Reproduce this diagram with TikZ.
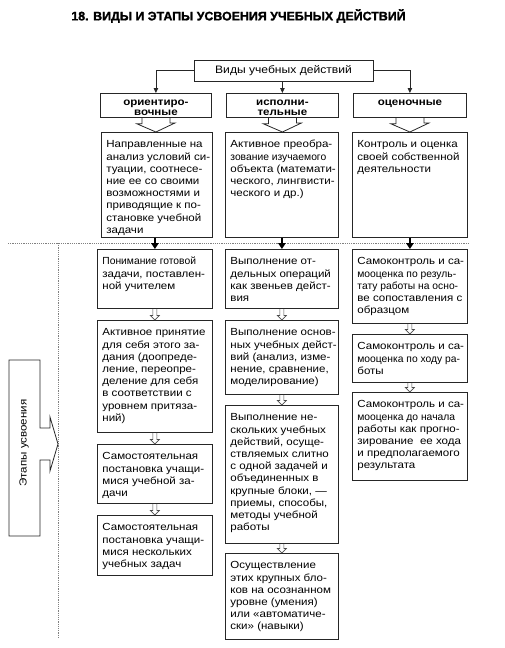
\documentclass[tikz,border=0pt]{standalone}
\usepackage{fontspec}
\setmainfont{Liberation Sans}[FakeStretch=1.12]
\newfontfamily\nf{Liberation Sans}[FakeStretch=1.0]
\newfontfamily\titlefont{Liberation Sans}[FakeBold=1.4]
\usetikzlibrary{arrows.meta,calc}
\tikzset{
  tb/.style={draw=black!85, line width=0.8pt, inner sep=0pt, fill=white,
    font=\fontsize{10.3}{12.2}\selectfont},
  conn/.style={draw=black!85, line width=0.8pt},
  tip/.style={conn, -{Triangle[length=5pt,width=4.5pt]}},
  heavy/.style={draw=black, line width=2.4pt, -{Triangle[length=6pt,width=7.5pt]}},
  hol/.style={draw=black!70, line width=0.6pt},
  dots/.style={draw=black!50, line width=0.7pt, dash pattern=on 1.2pt off 1pt},
}
\newcommand\tbox[6]{\node[tb,anchor=north west] (#1) at (#2,#3)
  {\parbox[t][#5pt][t]{#4pt}{\raggedright\leftskip=5pt\rule{0pt}{15.5pt}#6}};}
\newcommand\hdbox[6]{\node[tb,anchor=north west,font=\bfseries\fontsize{10.3}{10.5}\selectfont] (#1) at (#2,#3)
  {\parbox[t][#5pt][t]{#4pt}{\centering\rule{0pt}{12pt}#6}};}
\newcommand\holarrow[2]{\draw[hol] ($(#1.south)+(-2,0)$) -- ($(#2.north)+(-2,-4.5)$)
  -- ($(#2.north)+(-4.5,-4.5)$) -- (#2.north) -- ($(#2.north)+(4.5,-4.5)$)
  -- ($(#2.north)+(2,-4.5)$) -- ($(#1.south)+(2,0)$);}
\newcommand\funnel[2]{\draw[conn] ([xshift=-14pt]#1.south) -- ++(0,6) -- ++(-5,0)
  -- (#1.south |- #2.north) -- ++(19,-9) -- ++(-5,0) -- ([xshift=14pt]#1.south);}
\begin{document}
\begin{tikzpicture}[x=1pt,y=-1pt]
\useasboundingbox (0,0) rectangle (504,648);
\node (title) at (238.5,16) {\titlefont\bfseries\fontsize{12.4}{14}\selectfont 18. ВИДЫ И ЭТАПЫ УСВОЕНИЯ УЧЕБНЫХ ДЕЙСТВИЙ};
\node[tb, minimum width=179pt, minimum height=21pt, font=\fontsize{10.8}{12}\selectfont] (top) at (283.5,70.5) {Виды учебных действий};

\hdbox{h1}{100}{93}{111}{24}{ориентиро-\\вочные}
\hdbox{h2}{226}{93}{112}{24}{исполни-\\тельные}
\hdbox{h3}{353}{93}{113}{24}{оценочные}

\draw[tip] (top.west) -| (h1.north);
\draw[tip] (h2.north |- top.south) -- (h2.north);
\draw[tip] (top.east) -| (h3.north);

\tbox{c1}{101}{132}{111}{105}{Направленные на\\анализ условий си-\\туации, соотнесе-\\ние ее со своими\\возможностями и\\приводящие к по-\\становке учебной\\задачи}
\tbox{c2}{225}{132}{113}{105}{Активное преобра-\\{\nf зование изучаемого}\\объекта (математи-\\ческого, лингвисти-\\ческого и др.)}
\tbox{c3}{352}{132}{115}{105}{Контроль и оценка\\своей собственной\\деятельности}

\funnel{h1}{c1}
\funnel{h2}{c2}
\funnel{h3}{c3}

\draw[dots] (8,243) -- (470,243);
\draw[dots] (58,243) -- (58,638);

\tbox{l1}{97}{249}{115}{59}{{\nf Понимание готовой}\\задачи, поставлен-\\ной учителем}
\tbox{l2}{97}{320}{115}{112}{Активное принятие\\для себя этого за-\\дания (доопреде-\\ление, переопре-\\деление для себя\\в соответствии с\\уровнем притяза-\\ний)}
\tbox{l3}{97}{444}{115}{59}{Самостоятельная\\постановка учащи-\\мися учебной за-\\дачи}
\tbox{l4}{97}{515}{115}{60}{Самостоятельная\\постановка учащи-\\мися нескольких\\учебных задач}

\tbox{m1}{225}{249}{113}{59}{Выполнение от-\\дельных операций\\как звеньев дейст-\\вия}
\tbox{m2}{225}{320}{113}{74}{Выполнение основ-\\ных учебных дейст-\\вий (анализ, изме-\\нение, сравнение,\\моделирование)}
\tbox{m3}{225}{405}{113}{138}{Выполнение не-\\скольких учебных\\действий, осуще-\\ствляемых слитно\\с одной задачей и\\объединенных в\\крупные блоки, —\\приемы, способы,\\методы учебной\\работы}
\tbox{m4}{225}{553}{113}{86}{Осуществление\\этих крупных бло-\\ков на осознанном\\уровне (умения)\\или «автоматиче-\\ски» (навыки)}

\tbox{r1}{352}{249}{115}{74}{Самоконтроль и са-\\{\nf мооценка по резуль-}\\{\nf тату работы на осно-}\\ве сопоставления с\\образцом}
\tbox{r2}{352}{334}{115}{48}{Самоконтроль и са-\\{\nf мооценка по ходу ра-}\\боты}
\tbox{r3}{352}{392}{115}{88}{Самоконтроль и са-\\{\nf мооценка до начала}\\работы как прогно-\\зирование\ \ ее хода\\и предполагаемого\\результата}

\draw[heavy] (l1.north |- c1.south) -- (l1.north);
\draw[heavy] (m1.north |- c2.south) -- (m1.north);
\draw[heavy] (r1.north |- c3.south) -- (r1.north);

\holarrow{l1}{l2}
\holarrow{l2}{l3}
\holarrow{l3}{l4}
\holarrow{m1}{m2}
\holarrow{m2}{m3}
\holarrow{m3}{m4}
\holarrow{r1}{r2}
\holarrow{r2}{r3}

\draw[conn] (9,360) -- (40,360) -- (40,428) -- (50,428) -- (50,417) -- (58,444)
  -- (50,471) -- (50,460) -- (40,460) -- (40,536) -- (9,536) -- cycle;
\node[rotate=90, font=\fontsize{10.3}{12}\selectfont] (etapy) at (24,443) {Этапы усвоения};
\end{tikzpicture}
\end{document}
